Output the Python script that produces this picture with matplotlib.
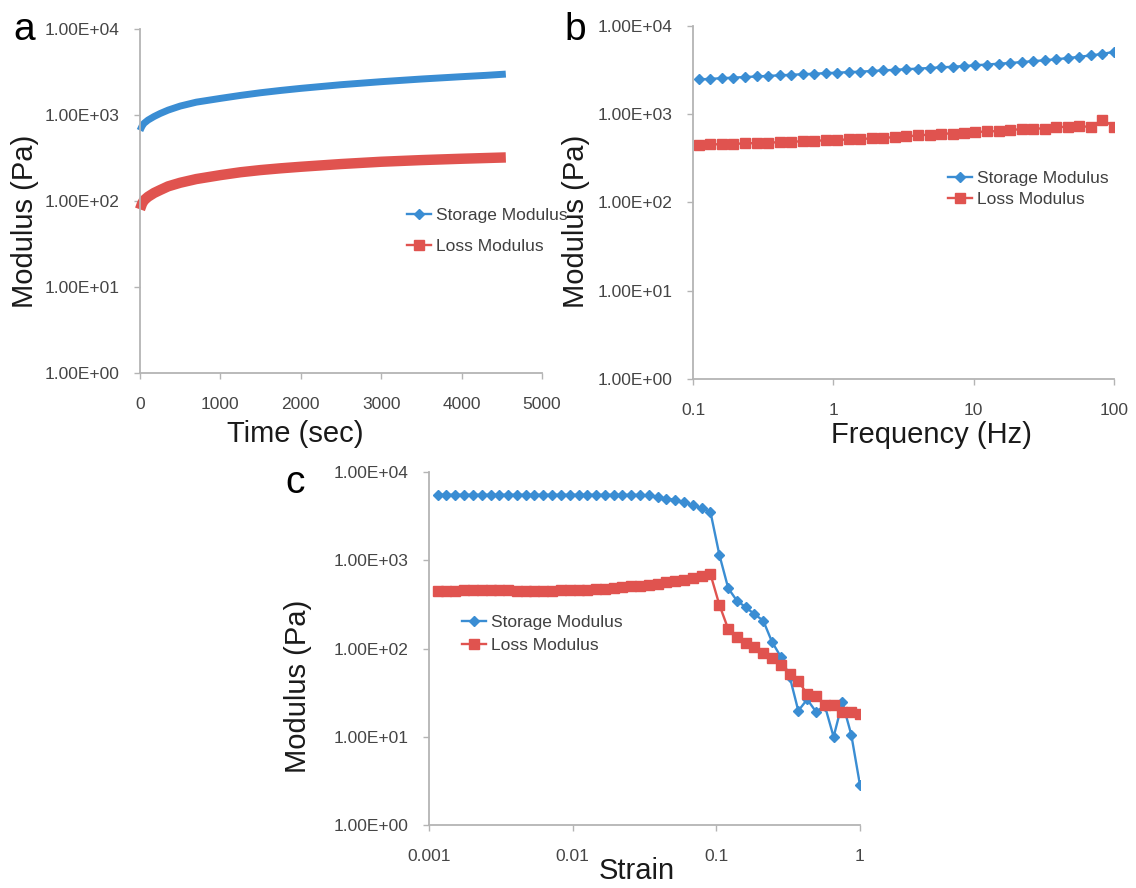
import matplotlib
matplotlib.use("Agg")
import matplotlib.pyplot as plt
from matplotlib.lines import Line2D
from matplotlib.ticker import FixedLocator, FixedFormatter

plt.rcParams['font.family'] = ['Liberation Sans', 'DejaVu Sans']

BLUE = "#3a8dd3"
RED = "#e0534f"
AXIS_GRAY = "#b4b4b4"
TICK_TXT = "#454545"

# time sweep (a)
time_a = [0, 25, 50, 100, 175, 250, 350, 500, 700, 1000, 1250, 1500, 1750,
          2000, 2500, 3000, 3500, 4000, 4300, 4550]
storage_a = [660, 740, 800, 873, 960, 1040, 1140, 1270, 1410, 1560, 1690, 1815,
             1930, 2040, 2250, 2440, 2620, 2790, 2890, 2990]
loss_a = [80, 93, 102, 112, 124, 134, 148, 163, 180, 200, 216, 229, 240,
          250, 269, 286, 299, 310, 316, 321]

# frequency sweep (b)
freq_b = [0.110, 0.133, 0.161, 0.194, 0.235, 0.284, 0.343, 0.414, 0.500, 0.605,
          0.731, 0.883, 1.07, 1.29, 1.56, 1.88, 2.27, 2.75, 3.32, 4.01,
          4.85, 5.86, 7.07, 8.55, 10.3, 12.5, 15.1, 18.2, 22.0, 26.6,
          32.1, 38.8, 46.9, 56.7, 68.5, 82.8, 100.0]
storage_b = [2480, 2520, 2560, 2600, 2640, 2680, 2720, 2760, 2800, 2840,
             2880, 2920, 2960, 3000, 3040, 3090, 3140, 3190, 3240, 3290,
             3345, 3400, 3450, 3520, 3590, 3660, 3740, 3810, 3900, 4000,
             4090, 4200, 4330, 4480, 4640, 4830, 5100]
loss_b = [450, 455, 458, 462, 467, 472, 477, 482, 488, 494,
          500, 506, 512, 518, 525, 532, 540, 550, 562, 575,
          589, 604, 604, 614, 625, 642, 642, 659, 682, 689,
          689, 718, 718, 731, 719, 871, 719]

# strain sweep (c)
strain_c = [0.00115, 0.00132, 0.00152, 0.00175, 0.00202, 0.00232, 0.00268, 0.00308,
            0.00355, 0.00408, 0.00470, 0.00542, 0.00624, 0.00718, 0.00827, 0.00953,
            0.0110, 0.0126, 0.0145, 0.0167, 0.0193, 0.0222, 0.0256, 0.0294,
            0.0339, 0.0390, 0.0449, 0.0518, 0.0596, 0.0686, 0.0790, 0.0910,
            0.105, 0.121, 0.139, 0.160, 0.184, 0.212, 0.244, 0.281,
            0.324, 0.372, 0.429, 0.494, 0.569, 0.655, 0.754, 0.869, 1.0]
storage_c = [5530, 5530, 5530, 5530, 5530, 5530, 5530, 5530, 5530, 5530,
             5530, 5530, 5530, 5530, 5530, 5530, 5530, 5530, 5530, 5520,
             5520, 5520, 5520, 5520, 5420, 5200, 4980, 4850, 4520, 4180,
             3900, 3520, 1150, 482, 348, 294, 245, 207, 119, 80.7,
             48, 19.7, 26.5, 19.2, 22.5, 9.98, 24.5, 10.6, 2.83]
loss_c = [450, 450, 452, 455, 458, 460, 460, 458, 455, 452,
          450, 450, 450, 452, 455, 458, 462, 466, 472, 478,
          486, 495, 505, 517, 530, 545, 562, 580, 600, 625,
          655, 695, 312, 166, 136, 116, 105, 89.5, 77.4, 65,
          51.4, 42.8, 30.5, 28.9, 22.9, 22.9, 19.2, 19.2, 18.0]

y_ticks = [1, 10, 100, 1000, 10000]
y_ticklabels = ["1.00E+00", "1.00E+01", "1.00E+02", "1.00E+03", "1.00E+04"]
labels = ["Storage Modulus", "Loss Modulus"]

W, H = 1136, 888
fig = plt.figure(figsize=(W / 100, H / 100), dpi=100)

D_MS, S_MS, LW = 5.2, 7.2, 1.7


def px_rect(x0, y0, x1, y1):
    return [x0 / W, 1 - y1 / H, (x1 - x0) / W, (y1 - y0) / H]


def style_axes(ax):
    for side in ("top", "right"):
        ax.spines[side].set_visible(False)
    for side in ("left", "bottom"):
        ax.spines[side].set_color(AXIS_GRAY)
        ax.spines[side].set_linewidth(1.3)
    ax.set_yscale("log")
    ax.set_ylim(1, 10000)
    ax.yaxis.set_major_locator(FixedLocator(y_ticks))
    ax.yaxis.set_major_formatter(FixedFormatter(y_ticklabels))
    ax.yaxis.set_minor_locator(FixedLocator([]))
    ax.tick_params(axis="both", which="major", direction="out", length=4.5,
                   width=1, color=AXIS_GRAY, labelcolor=TICK_TXT, labelsize=12.5)
    ax.tick_params(axis="y", pad=10)
    ax.tick_params(axis="x", pad=12.5)


def handles():
    return [
        Line2D([], [], color=BLUE, lw=LW, marker="D", ms=D_MS),
        Line2D([], [], color=RED, lw=LW, marker="s", ms=S_MS),
    ]


def add_legend(ax, x, y, spacing):
    ax.legend(handles(), labels, loc="upper left", bbox_to_anchor=(x / W, 1 - y / H),
              bbox_transform=fig.transFigure, frameon=False, borderpad=0,
              borderaxespad=0, handlelength=1.4, handletextpad=0.25,
              labelspacing=spacing, fontsize=12.5, labelcolor="#404040")


# (a) modulus vs time
ax_a = fig.add_axes(px_rect(140, 29, 542, 373))
style_axes(ax_a)
ax_a.plot(time_a, storage_a, color=BLUE, lw=5, solid_capstyle="butt", clip_on=False)
ax_a.plot(time_a, loss_a, color=RED, lw=7.5, solid_capstyle="butt", clip_on=False)
ax_a.set_xlim(0, 5000)
ax_a.set_xticks([0, 1000, 2000, 3000, 4000, 5000])
add_legend(ax_a, 407, 208, 0.92)

# (b) modulus vs frequency
ax_b = fig.add_axes(px_rect(693, 26, 1114, 379))
style_axes(ax_b)
ax_b.plot(freq_b, storage_b, color=BLUE, lw=LW, marker="D", ms=D_MS)
ax_b.plot(freq_b, loss_b, color=RED, lw=LW, marker="s", ms=S_MS)
ax_b.set_xscale("log")
ax_b.set_xlim(0.1, 100)
ax_b.xaxis.set_major_locator(FixedLocator([0.1, 1, 10, 100]))
ax_b.xaxis.set_major_formatter(FixedFormatter(["0.1", "1", "10", "100"]))
ax_b.xaxis.set_minor_locator(FixedLocator([]))
add_legend(ax_b, 948, 171, 0.32)

# (c) modulus vs strain
ax_c = fig.add_axes(px_rect(429, 472, 860, 825))
style_axes(ax_c)
ax_c.plot(strain_c, storage_c, color=BLUE, lw=LW, marker="D", ms=D_MS)
ax_c.plot(strain_c, loss_c, color=RED, lw=LW, marker="s", ms=S_MS)
ax_c.set_xscale("log")
ax_c.set_xlim(0.001, 1)
ax_c.xaxis.set_major_locator(FixedLocator([0.001, 0.01, 0.1, 1]))
ax_c.xaxis.set_major_formatter(FixedFormatter(["0.001", "0.01", "0.1", "1"]))
ax_c.xaxis.set_minor_locator(FixedLocator([]))
add_legend(ax_c, 462, 615, 0.42)

# axis titles and panel letters
lab = dict(fontsize=21, color="#1a1a1a")
fig.text(25 / W, 1 - 221 / H, "Modulus (Pa)", rotation=90, ha="center", va="center", **lab)
fig.text(295 / W, 1 - 442 / H, "Time (sec)", ha="center", va="baseline", **lab)
fig.text(576 / W, 1 - 221 / H, "Modulus (Pa)", rotation=90, ha="center", va="center", **lab)
fig.text(931 / W, 1 - 443 / H, "Frequency (Hz)", ha="center", va="baseline", **lab)
fig.text(298 / W, 1 - 686 / H, "Modulus (Pa)", rotation=90, ha="center", va="center", **lab)
fig.text(637 / W, 1 - 879 / H, "Strain", ha="center", va="baseline", **lab)

let = dict(fontsize=28, color="black", va="baseline", ha="left")
fig.text(13 / W, 1 - 40 / H, "a", **let)
fig.text(564 / W, 1 - 40 / H, "b", **let)
fig.text(285 / W, 1 - 493 / H, "c", **let)

fig.savefig("out.png", dpi=100)
